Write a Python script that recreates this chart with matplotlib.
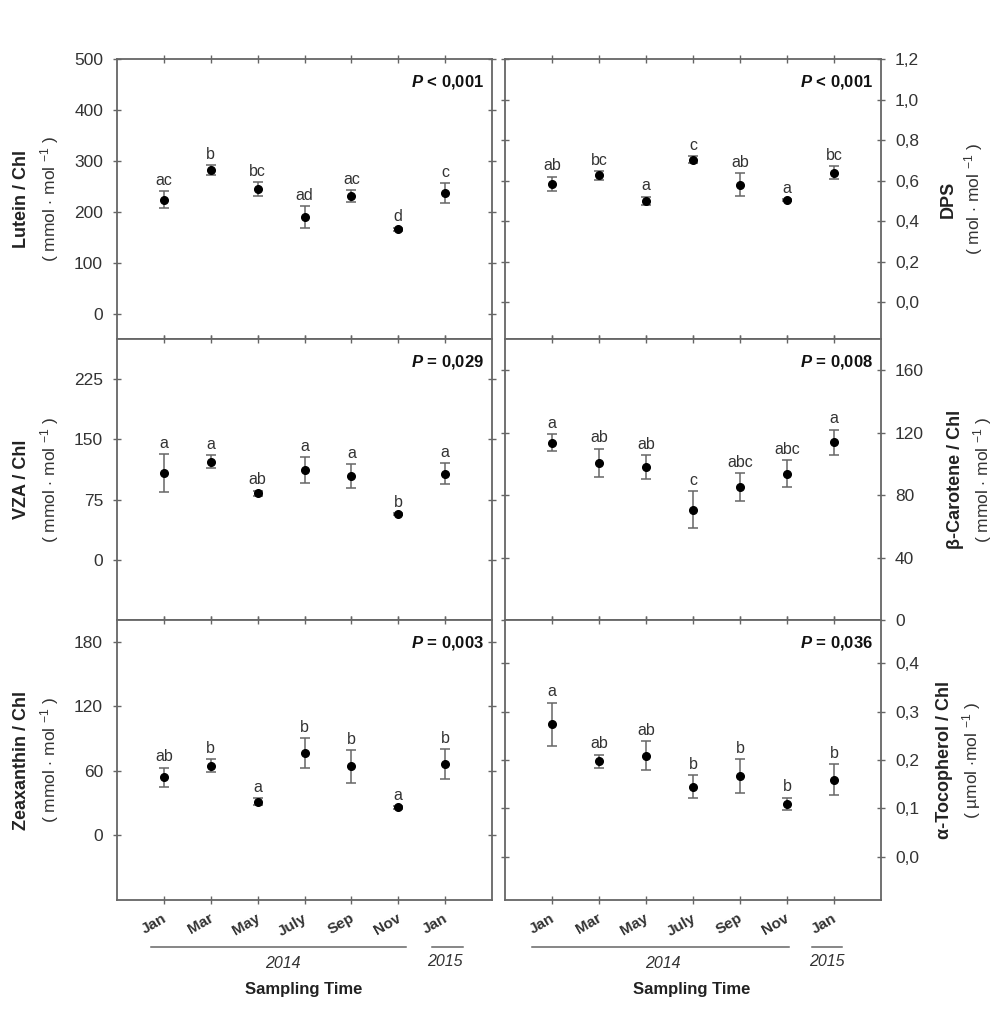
import numpy as np
import matplotlib
matplotlib.use('Agg')
import matplotlib.pyplot as plt
import matplotlib.transforms as mtrans
from matplotlib.ticker import FuncFormatter

plt.rcParams['font.family'] = ['Liberation Sans', 'DejaVu Sans']
plt.rcParams['mathtext.fontset'] = 'custom'
plt.rcParams['mathtext.rm'] = 'Liberation Sans'
plt.rcParams['mathtext.it'] = 'Liberation Sans:italic:bold'

# sampling months (Jan 2014 .. Jan 2015)
months = ['Jan', 'Mar', 'May', 'July', 'Sep', 'Nov', 'Jan']

lutein = [224, 282, 244, 190, 231, 166, 237]
lutein_err = [16, 9, 14, 21, 11, 3, 19]
lutein_grp = ['ac', 'b', 'bc', 'ad', 'ac', 'd', 'c']

dps = [0.585, 0.626, 0.502, 0.704, 0.581, 0.506, 0.640]
dps_err = [0.035, 0.02, 0.02, 0.018, 0.057, 0.005, 0.033]
dps_grp = ['ab', 'bc', 'a', 'c', 'ab', 'a', 'bc']

vza = [108, 122, 83, 112, 104, 57, 107]
vza_err = [24, 8, 3, 16, 15, 1, 13]
vza_grp = ['a', 'a', 'ab', 'a', 'a', 'b', 'a']

bcar = [113.6, 100.7, 98, 70.7, 85, 93.7, 114]
bcar_err = [5.5, 9, 7.5, 11.7, 9, 8.5, 8]
bcar_grp = ['a', 'ab', 'ab', 'c', 'abc', 'abc', 'a']

zea = [54, 64.6, 31.4, 76.3, 64, 26, 66.5]
zea_err = [9, 6, 3, 14, 15, 1.5, 13.7]
zea_grp = ['ab', 'b', 'a', 'b', 'b', 'a', 'b']

toc = [0.274, 0.197, 0.209, 0.145, 0.167, 0.109, 0.159]
toc_err = [0.045, 0.014, 0.03, 0.024, 0.035, 0.013, 0.032]
toc_grp = ['a', 'ab', 'ab', 'b', 'b', 'b', 'b']

GREY = '#666666'
TXT = '#333333'

x = np.arange(1, len(months) + 1)

fig = plt.figure(figsize=(10, 10.21), dpi=100)

W, H = 1000, 1021
def rect(l, t, r, b):
    return [l / W, 1 - b / H, (r - l) / W, (b - t) / H]

rows = [(59, 339), (339, 620), (620, 900)]
cols = [(117, 492), (505, 881)]


def comma(v, pos, nd):
    return ('{:.%df}' % nd).format(v).replace('.', ',')


def panel(ax, vals, err, grp, ylim, yticks, nd, ptxt, label, units, side,
          lab_x, unit_x, bottom):
    ax.errorbar(x, vals, yerr=err, fmt='o', color='black', ms=5.5,
                ecolor=GREY, elinewidth=1.1, capsize=3.5, capthick=1.1,
                zorder=3)
    for xi, v, e, g in zip(x, vals, err, grp):
        ax.annotate(g, (xi, v + e), xytext=(0, 4.5), textcoords='offset points',
                    ha='center', va='baseline', fontsize=11.5, color=TXT)
    ax.set_xlim(0, 8)
    ax.set_ylim(*ylim)
    ax.set_yticks(yticks)
    ax.yaxis.set_major_formatter(FuncFormatter(lambda v, p: comma(v, p, nd)))
    ax.set_xticks(x)
    for s in ax.spines.values():
        s.set_color(GREY)
        s.set_linewidth(1.3)
    ax.tick_params(axis='both', which='both', direction='inout', length=6,
                   width=1, color=GREY, top=True, right=True, left=True,
                   labelsize=12.5, labelcolor=TXT)
    if side == 'right':
        ax.tick_params(axis='y', labelleft=False, labelright=True, pad=7)
    else:
        ax.tick_params(axis='y', pad=7)
    if bottom:
        ax.tick_params(axis='x', pad=5)
        ax.set_xticklabels(months, rotation=30, ha='right', fontsize=11,
                           fontweight='bold')
        shift = mtrans.ScaledTranslation(5 / 100, 0, fig.dpi_scale_trans)
        for lbl in ax.get_xticklabels():
            lbl.set_transform(lbl.get_transform() + shift)
    else:
        ax.set_xticklabels([])
    ax.text(0.978, 0.95, ptxt, transform=ax.transAxes, ha='right', va='top',
            fontsize=12, fontweight='bold', color='#111111')
    ax.text(lab_x, 0.5, label, transform=ax.transAxes, rotation=90,
            ha='center', va='center', fontsize=13, fontweight='bold',
            color='#222222')
    ax.text(unit_x, 0.5, units, transform=ax.transAxes, rotation=90,
            ha='center', va='center', fontsize=12.5, color=TXT)


u_mmol = r'( mmol $\cdot$ mol $^{\mathrm{-1}}$ )'
u_mol = r'( mol $\cdot$ mol $^{\mathrm{-1}}$ )'
u_umol = r'( µmol $\cdot$mol $^{\mathrm{-1}}$ )'

axes = []
specs = [
    (0, 0, lutein, lutein_err, lutein_grp, (-50, 500), [0, 100, 200, 300, 400, 500], 0,
     r'$\mathit{P}$ < 0,001', 'Lutein / Chl', u_mmol, -0.254, -0.179),
    (0, 1, dps, dps_err, dps_grp, (-0.18, 1.2), [0, 0.2, 0.4, 0.6, 0.8, 1.0, 1.2], 1,
     r'$\mathit{P}$ < 0,001', 'DPS', u_mol, 1.178, 1.245),
    (1, 0, vza, vza_err, vza_grp, (-75, 275), [0, 75, 150, 225], 0,
     r'$\mathit{P}$ = 0,029', 'VZA / Chl', u_mmol, -0.254, -0.179),
    (1, 1, bcar, bcar_err, bcar_grp, (0, 180), [0, 40, 80, 120, 160], 0,
     r'$\mathit{P}$ = 0,008', 'β-Carotene / Chl', u_mmol, 1.197, 1.271),
    (2, 0, zea, zea_err, zea_grp, (-60, 200), [0, 60, 120, 180], 0,
     r'$\mathit{P}$ = 0,003', 'Zeaxanthin / Chl', u_mmol, -0.254, -0.179),
    (2, 1, toc, toc_err, toc_grp, (-0.09, 0.49), [0, 0.1, 0.2, 0.3, 0.4], 1,
     r'$\mathit{P}$ = 0,036', 'α-Tocopherol / Chl', u_umol, 1.17, 1.24),
]

for r, c, vals, err, grp, ylim, yt, nd, pt, lab, un, lx, ux in specs:
    t, b = rows[r]
    l, rr = cols[c]
    ax = fig.add_axes(rect(l, t, rr, b))
    panel(ax, vals, err, grp, ylim, yt, nd, pt, lab, un,
          'right' if c == 1 else 'left', lx, ux, r == 2)
    axes.append(ax)

# year brackets and axis title under the bottom panels
years = [
    (axes[4], (0.73, 6.17), (6.72, 7.38), 3.53, 7.0),
    (axes[5], (0.57, 6.04), (6.53, 7.17), 3.36, 6.85),
]
for ax, y14, y15, t14, t15 in years:
    tr = mtrans.blended_transform_factory(ax.transData, ax.transAxes)
    ax.plot(y14, [-0.168, -0.168], color=GREY, lw=1.1, transform=tr, clip_on=False)
    ax.plot(y15, [-0.168, -0.168], color=GREY, lw=1.1, transform=tr, clip_on=False)
    ax.text(t14, -0.225, '2014', transform=tr, ha='center', va='center',
            fontsize=11.5, style='italic', color=TXT)
    ax.text(t15, -0.22, '2015', transform=tr, ha='center', va='center',
            fontsize=11.5, style='italic', color=TXT)
    ax.text(3.98, -0.318, 'Sampling Time', transform=tr, ha='center',
            va='center', fontsize=12, fontweight='bold', color='#222222')

fig.savefig('out.png', dpi=100, facecolor='white')
